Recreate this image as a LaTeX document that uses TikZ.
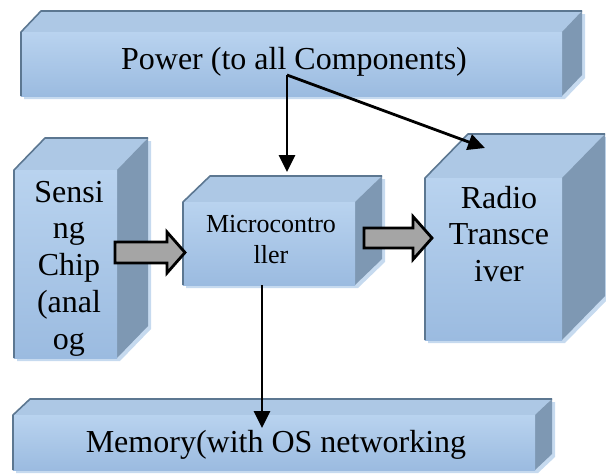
\documentclass[tikz,border=0pt]{standalone}
\usepackage{fontspec}
\setmainfont{Liberation Serif}
\usetikzlibrary{arrows.meta}
\definecolor{topc}{HTML}{ADC8E5}
\definecolor{fronttop}{HTML}{B9D3EF}
\definecolor{frontbot}{HTML}{9BBBE0}
\definecolor{sidec}{HTML}{7E98B3}
\definecolor{edgec}{HTML}{5C7791}
\definecolor{shadowc}{HTML}{C6DAEF}
\definecolor{blockc}{HTML}{A5A5A5}
% #1 x1, #2 y1, #3 x2, #4 y2, #5 dx, #6 dy (depth up-right)
\newcommand\mycuboid[6]{%
  \fill[shadowc] (#1+3,#2+3) -- (#1+#5+3,#2-#6+3) -- (#3+#5+3,#2-#6+3) -- (#3+#5+3,#4-#6+3) -- (#3+3,#4+3) -- (#1+3,#4+3) -- cycle;
  \fill[topc] (#1,#2) -- (#1+#5,#2-#6) -- (#3+#5,#2-#6) -- (#3,#2) -- cycle;
  \fill[sidec] (#3,#2) -- (#3+#5,#2-#6) -- (#3+#5,#4-#6) -- (#3,#4) -- cycle;
  \shade[top color=fronttop, bottom color=frontbot] (#1,#2) rectangle (#3,#4);
  \draw[edgec, line width=1.6pt, line join=round] (#1,#4) -- (#1,#2) -- (#1+#5,#2-#6) -- (#3+#5,#2-#6);
}
% block arrow: #1 shaft left x, #2 head base x, #3 tip x, #4 centre y, #5 half shaft, #6 half head
\newcommand\myblockarrow[6]{%
  \draw[blockstyle] (#1,#4-#5) -- (#2,#4-#5) -- (#2,#4-#6) -- (#3,#4) -- (#2,#4+#6) -- (#2,#4+#5) -- (#1,#4+#5) -- cycle;
}
\tikzset{
  bigtext/.style={font=\fontsize{32}{36.8}\selectfont, inner sep=0pt, align=center},
  smalltext/.style={font=\fontsize{26}{31}\selectfont, inner sep=0pt, align=center},
  linkarrow/.style={line width=2.8pt, -{Triangle[length=17pt,width=16pt]}},
  blockstyle/.style={fill=blockc, draw=black, line width=2.8pt, line join=miter}
}
\begin{document}
\begin{tikzpicture}[x=1pt,y=-1pt]
\useasboundingbox (0,0) rectangle (606,475);
% boxes
\mycuboid{21}{32}{562}{96}{20}{21}
\mycuboid{14}{170}{117}{358}{31}{32}
\mycuboid{183}{202}{355}{285}{27}{26}
\mycuboid{425}{178}{562}{340}{43}{44}
\mycuboid{13}{415}{535}{470}{17}{16}
% texts
\node[bigtext, anchor=base] (power) at (294,69) {Power (to all Components)};
\node[bigtext] (sense) at (69,268.5) {Sensi\\ng\\Chip\\(anal\\og};
\node[smalltext] (mcu) at (271,240) {Microcontro\\ller};
\node[bigtext] (radio) at (499,234) {Radio\\Transce\\iver};
\node[bigtext, anchor=base] (mem) at (276,452) {Memory(with OS networking};
% connector end points
\coordinate (pwsrc) at (287,75);
\coordinate (mcuin) at (287,172);
\coordinate (radin) at (485,148);
\coordinate (mcuout) at (262,285);
\coordinate (memin) at (262,428);
% block arrows
\myblockarrow{115}{167}{185}{252.5}{10.5}{20.5}
\myblockarrow{364}{413}{432}{238}{10}{21.5}
% line arrows
\draw[linkarrow] (pwsrc) -- (mcuin);
\draw[linkarrow] (pwsrc) -- (radin);
\draw[linkarrow] (mcuout) -- (memin);
\end{tikzpicture}
\end{document}
